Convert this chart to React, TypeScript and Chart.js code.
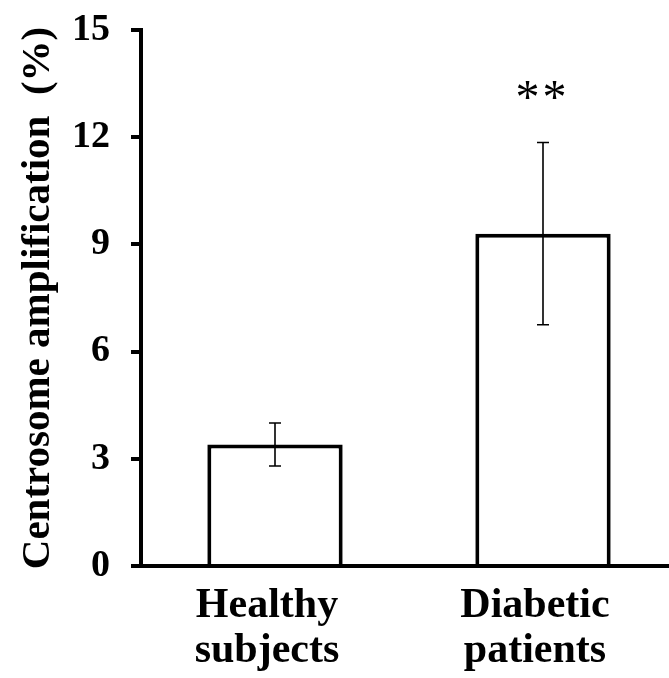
import { useEffect, useRef } from "react";
import { Chart, registerables } from "chart.js";

Chart.register(...registerables);

// Group labels (two lines each), mean values and their error (±)
const groupLabels = [
  ["Healthy", "subjects"],
  ["Diabetic", "patients"],
];
const meanValues = [3.4, 9.3];
const errorValues = [0.6, 2.55];
const significanceMarks = ["", "**"];
const yMin = 0;
const yMax = 15;
const yStep = 3;
const yTitle = "Centrosome amplification  (%)";

const SERIF = '"Liberation Serif", "Times New Roman", Times, serif';

const errorBarPlugin = {
  id: "errorBars",
  afterDatasetsDraw(chart: any) {
    const { ctx } = chart;
    const y = chart.scales.y;
    const meta = chart.getDatasetMeta(0);
    ctx.save();
    ctx.strokeStyle = "#000";
    ctx.lineWidth = 1.6;
    meta.data.forEach((bar: any, i: number) => {
      const x = bar.x;
      const hi = y.getPixelForValue(meanValues[i] + errorValues[i]);
      const lo = y.getPixelForValue(meanValues[i] - errorValues[i]);
      const cap = 6;
      ctx.beginPath();
      ctx.moveTo(x, hi);
      ctx.lineTo(x, lo);
      ctx.moveTo(x - cap, hi);
      ctx.lineTo(x + cap, hi);
      ctx.moveTo(x - cap, lo);
      ctx.lineTo(x + cap, lo);
      ctx.stroke();

      const mark = significanceMarks[i];
      if (mark) {
        ctx.fillStyle = "#000";
        ctx.font = `48px ${SERIF}`;
        ctx.textAlign = "center";
        ctx.textBaseline = "alphabetic";
        const chars = mark.split("");
        const spacing = 27;
        chars.forEach((ch, k) => {
          const cx = x - 2 + (k - (chars.length - 1) / 2) * spacing;
          ctx.fillText(ch, cx, hi - 30);
        });
      }
    });
    ctx.restore();
  },
};

export default function App() {
  const canvasRef = useRef<HTMLCanvasElement | null>(null);

  useEffect(() => {
    const canvas = canvasRef.current;
    if (!canvas) return;
    const chart = new Chart(canvas, {
      type: "bar",
      data: {
        labels: groupLabels,
        datasets: [
          {
            data: meanValues,
            backgroundColor: "#ffffff",
            borderColor: "#000000",
            borderWidth: 4,
            barPercentage: 0.505,
            categoryPercentage: 1,
          },
        ],
      },
      options: {
        responsive: false,
        animation: false,
        devicePixelRatio: 1,
        layout: { padding: { top: 30, left: 0, right: 0, bottom: 0 } },
        plugins: {
          legend: { display: false },
          tooltip: { enabled: false },
        },
        scales: {
          x: {
            type: "category",
            offset: true,
            grid: { display: false },
            border: { display: true, color: "#000", width: 4 },
            ticks: {
              color: "#000",
              font: { family: SERIF, size: 42, weight: "bold", lineHeight: 1.08 },
              padding: 9,
              labelOffset: -8,
              maxRotation: 0,
              autoSkip: false,
            },
            afterFit: (scale: any) => {
              scale.height = 112;
            },
          },
          y: {
            min: yMin,
            max: yMax,
            grid: {
              display: true,
              drawOnChartArea: false,
              drawTicks: true,
              tickLength: 10,
              color: "#000",
              lineWidth: 4,
            },
            border: { display: true, color: "#000", width: 4 },
            ticks: {
              stepSize: yStep,
              color: "#000",
              padding: 21,
              font: { family: SERIF, size: 38, weight: "bold" },
            },
            title: {
              display: true,
              text: yTitle,
              color: "#000",
              font: { family: SERIF, size: 41, weight: "bold" },
              padding: { top: 14, bottom: 0 },
            },
            afterFit: (scale: any) => {
              scale.width = 141;
              scale.paddingTop = 0;
              scale.paddingBottom = 0;
            },
          },
        },
      },
      plugins: [errorBarPlugin],
    });
    return () => chart.destroy();
  }, []);

  return (
    <div
      style={{
        position: "fixed",
        left: 0,
        top: 0,
        width: 669,
        height: 678,
        overflow: "hidden",
        background: "#fff",
      }}
    >
      <canvas ref={canvasRef} width={677} height={678} style={{ display: "block" }} />
    </div>
  );
}
